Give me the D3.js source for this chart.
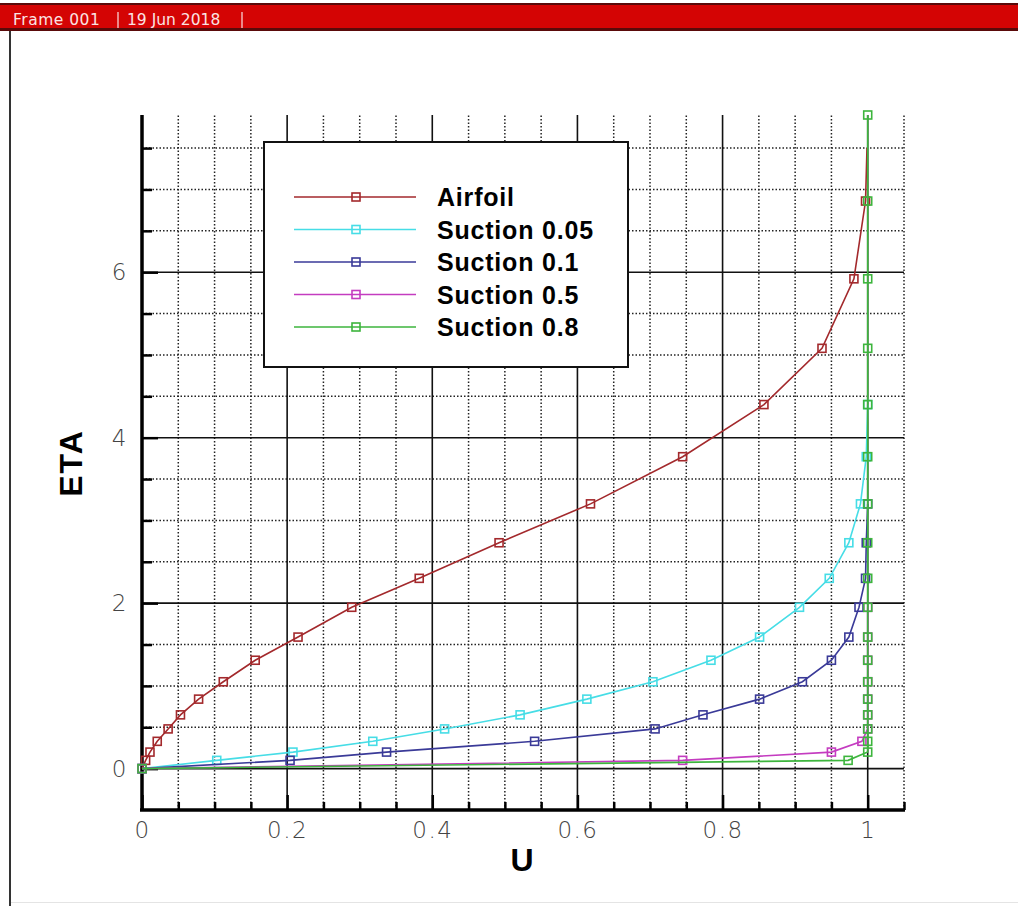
<!DOCTYPE html>
<html>
<head>
<meta charset="utf-8">
<script src="https://cdn.jsdelivr.net/npm/d3@7"></script>
<style>
  body { margin: 0; background: #fff; }
  svg { display: block; }
</style>
</head>
<body>
<div id="chart"></div>
<script>
// eta nodes where the solver wrote a point (markers are drawn on these)
const etaGrid = [0, 0.1, 0.2, 0.33, 0.48, 0.65, 0.84, 1.05, 1.31, 1.59, 1.95, 2.30, 2.73, 3.20, 3.77, 4.40, 5.08, 5.92, 6.86, 7.90]

const airfoilEta = [0, 0.1, 0.2, 0.33, 0.48, 0.65, 0.84, 1.05, 1.31, 1.59, 1.95, 2.30, 2.73, 3.20, 3.77, 4.40, 5.08, 5.92, 6.86, 7.5]
const airfoilU   = [0, 0.005, 0.011, 0.021, 0.036, 0.053, 0.078, 0.112, 0.156, 0.215, 0.289, 0.382, 0.492, 0.618, 0.745, 0.857, 0.937, 0.981, 0.997, 0.999]

const suction005Eta = [0, 0.1, 0.2, 0.33, 0.48, 0.65, 0.84, 1.05, 1.31, 1.59, 1.95, 2.30, 2.73, 3.20, 3.77, 4.40]
const suction005U   = [0, 0.103, 0.208, 0.318, 0.417, 0.521, 0.613, 0.704, 0.784, 0.851, 0.906, 0.947, 0.974, 0.990, 0.998, 1.0]

const suction01Eta = [0, 0.1, 0.2, 0.33, 0.48, 0.65, 0.84, 1.05, 1.31, 1.59, 1.95, 2.30, 2.73, 3.20]
const suction01U   = [0, 0.204, 0.337, 0.541, 0.707, 0.773, 0.851, 0.910, 0.950, 0.974, 0.988, 0.997, 0.998, 1.0]

const suction05Eta = [0, 0.1, 0.2, 0.33, 0.48, 0.65, 0.84, 1.05, 1.31, 1.59, 1.95]
const suction05U   = [0, 0.745, 0.950, 0.992, 1.0, 1.0, 1.0, 1.0, 1.0, 1.0, 1.0]

const suction08Eta = [0, 0.1, 0.2, 0.33, 0.48, 0.65, 0.84, 1.05, 1.31, 1.59, 1.95, 2.30, 2.73, 3.20, 3.77, 4.40, 5.08, 5.92, 6.86, 7.90]
const suction08U   = [0, 0.973, 1.0, 1.0, 1.0, 1.0, 1.0, 1.0, 1.0, 1.0, 1.0, 1.0, 1.0, 1.0, 1.0, 1.0, 1.0, 1.0, 1.0, 1.0]

const seriesNames = ["Airfoil", "Suction 0.05", "Suction 0.1", "Suction 0.5", "Suction 0.8"]
const seriesColors = ["#a3292c", "#46dde6", "#3a3a98", "#c43cc0", "#3db53d"]

const xTicks = [0, 0.2, 0.4, 0.6, 0.8, 1]
const yTicks = [0, 2, 4, 6]
const frameText = ["Frame 001", "19 Jun 2018"]

const series = [
  {eta: airfoilEta, u: airfoilU},
  {eta: suction005Eta, u: suction005U},
  {eta: suction01Eta, u: suction01U},
  {eta: suction05Eta, u: suction05U},
  {eta: suction08Eta, u: suction08U}
].map((s, i) => ({
  name: seriesNames[i],
  color: seriesColors[i],
  pts: s.eta.map((e, j) => ({eta: e, u: s.u[j]}))
}))

const W = 1018, H = 906

const svg = d3.select("#chart").append("svg")
  .attr("width", W)
  .attr("height", H)

// window frame bits
svg.append("rect").attr("x", 0).attr("y", 3).attr("width", W).attr("height", 28).attr("fill", "#5a0a0a")
svg.append("rect").attr("x", 0).attr("y", 5).attr("width", W).attr("height", 23).attr("fill", "#d40404")
svg.append("text").attr("x", 13).attr("y", 25)
  .style("font-family", "DejaVu Sans, sans-serif").style("font-size", "15.5px").style("letter-spacing", "0.5px")
  .attr("fill", "#fbe3e3").text(frameText[0])
svg.append("line").attr("x1", 118).attr("x2", 118).attr("y1", 12).attr("y2", 28).attr("stroke", "#fbe3e3").attr("stroke-width", 1.2)
svg.append("text").attr("x", 127).attr("y", 25)
  .style("font-family", "DejaVu Sans, sans-serif").style("font-size", "15.5px")
  .attr("fill", "#fbe3e3").text(frameText[1])
svg.append("line").attr("x1", 242).attr("x2", 242).attr("y1", 12).attr("y2", 28).attr("stroke", "#fbe3e3").attr("stroke-width", 1.2)
svg.append("line").attr("x1", 10).attr("x2", 10).attr("y1", 31).attr("y2", H).attr("stroke", "#333").attr("stroke-width", 2)
svg.append("line").attr("x1", 11).attr("x2", W).attr("y1", 902.5).attr("y2", 902.5).attr("stroke", "#e4e4e4").attr("stroke-width", 1)

// scales
const x = d3.scaleLinear().domain([0, 1.05]).range([142, 904])
const y = d3.scaleLinear().domain([-0.5, 7.9]).range([810, 115])

// grid
const minorX = d3.range(1, 22).map(i => i * 0.05).filter(v => Math.abs(v * 5 - Math.round(v * 5)) > 1e-6)
const minorY = d3.range(1, 16).map(i => i * 0.5).filter(v => v % 2 !== 0)

const grid = svg.append("g")
grid.selectAll(".mx").data(minorX).enter().append("line")
  .attr("x1", d => x(d)).attr("x2", d => x(d))
  .attr("y1", y(-0.5)).attr("y2", y(7.9))
  .attr("stroke", "#222").attr("stroke-width", 1.5).attr("stroke-dasharray", "1.5,2")
grid.selectAll(".my").data(minorY).enter().append("line")
  .attr("x1", x(0)).attr("x2", x(1.05))
  .attr("y1", d => y(d)).attr("y2", d => y(d))
  .attr("stroke", "#222").attr("stroke-width", 1.5).attr("stroke-dasharray", "1.5,2")
grid.selectAll(".Mx").data(xTicks.slice(1)).enter().append("line")
  .attr("x1", d => x(d)).attr("x2", d => x(d))
  .attr("y1", y(-0.5)).attr("y2", y(7.9))
  .attr("stroke", "#111").attr("stroke-width", 1.6)
grid.selectAll(".My").data(yTicks).enter().append("line")
  .attr("x1", x(0)).attr("x2", x(1.05))
  .attr("y1", d => y(d)).attr("y2", d => y(d))
  .attr("stroke", "#111").attr("stroke-width", 1.6)

// axes, ticks pointing inward like tecplot
const xAxis = svg.append("g").attr("transform", `translate(0,${y(-0.5)})`)
  .call(d3.axisBottom(x).tickValues(xTicks).tickSize(-15).tickFormat(d3.format("")).tickPadding(22))
const yAxis = svg.append("g").attr("transform", `translate(${x(0)},0)`)
  .call(d3.axisLeft(y).tickValues(yTicks).tickSize(-16).tickPadding(14))
svg.append("g").attr("transform", `translate(${x(0)},0)`)
  .call(d3.axisLeft(y).tickValues(minorY).tickSize(-10).tickFormat(""))
  .call(g => g.select(".domain").remove())
svg.append("g").attr("transform", `translate(0,${y(-0.5)})`)
  .call(d3.axisBottom(x).tickValues(minorX).tickSize(-8).tickFormat(""))
  .call(g => g.select(".domain").remove())

svg.selectAll(".tick line").attr("stroke", "#000").attr("stroke-width", 2.5)
xAxis.select(".domain").attr("stroke", "#000").attr("stroke-width", 3.5).attr("d", `M${x(0) - 2},0H${x(1.05) + 1}`)
yAxis.select(".domain").attr("stroke", "#000").attr("stroke-width", 3.5).attr("d", `M0,${y(-0.5) + 1}V${y(7.9)}`)
svg.selectAll(".tick text")
  .style("font-family", "'DejaVu Sans', sans-serif").style("font-weight", "200")
  .style("font-size", "23px").style("letter-spacing", "1.5px")
  .attr("fill", "#444")
xAxis.selectAll(".tick text").attr("dy", "0.35em").attr("y", 20)

// curves
const line = d3.line().x(d => x(d.u)).y(d => y(d.eta))
const curves = svg.append("g")
series.forEach(s => {
  curves.append("path").datum(s.pts)
    .attr("d", line).attr("fill", "none")
    .attr("stroke", s.color).attr("stroke-width", 1.6)
  curves.selectAll(null).data(s.pts.filter(p => etaGrid.includes(p.eta))).enter().append("rect")
    .attr("x", d => x(d.u) - 4).attr("y", d => y(d.eta) - 4)
    .attr("width", 8).attr("height", 8)
    .attr("fill", "none").attr("stroke", s.color).attr("stroke-width", 1.6)
})

// legend
const leg = svg.append("g")
leg.append("rect").attr("x", 264).attr("y", 142).attr("width", 364).attr("height", 225)
  .attr("fill", "#fff").attr("stroke", "#111").attr("stroke-width", 2)
const legY = d3.scalePoint().domain(seriesNames).range([197, 327])
series.forEach(s => {
  const yy = legY(s.name)
  leg.append("line").attr("x1", 294).attr("x2", 416).attr("y1", yy).attr("y2", yy)
    .attr("stroke", s.color).attr("stroke-width", 1.6)
  leg.append("rect").attr("x", 352).attr("y", yy - 4).attr("width", 8).attr("height", 8)
    .attr("fill", "none").attr("stroke", s.color).attr("stroke-width", 1.6)
  leg.append("text").attr("x", 437).attr("y", yy + 9)
    .style("font-family", "'Liberation Sans', Arial, sans-serif").style("font-weight", "bold")
    .style("font-size", "25px").style("letter-spacing", "0.8px")
    .attr("fill", "#000").text(s.name)
})

// axis titles
svg.append("text").attr("x", 522).attr("y", 871).attr("text-anchor", "middle")
  .style("font-family", "'Liberation Sans', Arial, sans-serif").style("font-weight", "bold")
  .style("font-size", "32px").text("U")
svg.append("text").attr("transform", "translate(82,463) rotate(-90)").attr("text-anchor", "middle")
  .style("font-family", "'Liberation Sans', Arial, sans-serif").style("font-weight", "bold")
  .style("font-size", "32px").style("letter-spacing", "2px").text("ETA")
</script>
</body>
</html>
